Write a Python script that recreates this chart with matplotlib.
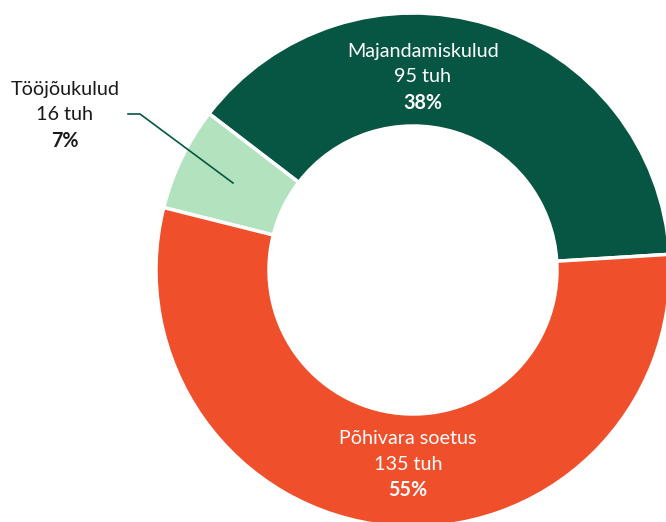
import matplotlib.pyplot as plt

# data
labels = ['Majandamiskulud', 'Tööjõukulud', 'Põhivara soetus']
values = [95, 16, 135]          # tuh
percents = [38, 7, 55]          # as printed on the chart
colors = ['#075643', '#b3e2bf', '#f04f2b']

W, H = 666, 522

plt.rcParams['font.family'] = ['Lato', 'DejaVu Sans']

fig = plt.figure(figsize=(W / 100, H / 100), dpi=100)
ax = fig.add_axes([0, 0, 1, 1])

cx, cy = 413, H - 270
r_out, r_in = 257, 144
ax.pie(values, colors=colors, startangle=3.5, counterclock=True,
       center=(cx, cy), radius=r_out,
       wedgeprops=dict(width=r_out - r_in, edgecolor='white', linewidth=2.5))

ax.set_xlim(0, W)
ax.set_ylim(0, H)
ax.set_aspect('equal')
ax.axis('off')

# label positions (pixel coords, top-left origin)
label_pos = [(423, 52), (65, 90), (408, 439)]
text_col = ['white', '#1a1a1a', 'white']
fs = 14.2
for lab, v, p, (x, y), tc in zip(labels, values, percents, label_pos, text_col):
    ax.text(x, H - y, lab, ha='center', va='center', color=tc, fontsize=fs)
    ax.text(x, H - y - 25, f'{v} tuh', ha='center', va='center', color=tc, fontsize=fs)
    ax.text(x, H - y - 51, f'{p}%', ha='center', va='center', color=tc,
            fontsize=fs, fontweight='bold')

# leader line for the small slice
ax.plot([128, 140, 233], [H - 114, H - 114, H - 183], color='#075643', lw=1.2)

fig.savefig('out.png', dpi=100)
